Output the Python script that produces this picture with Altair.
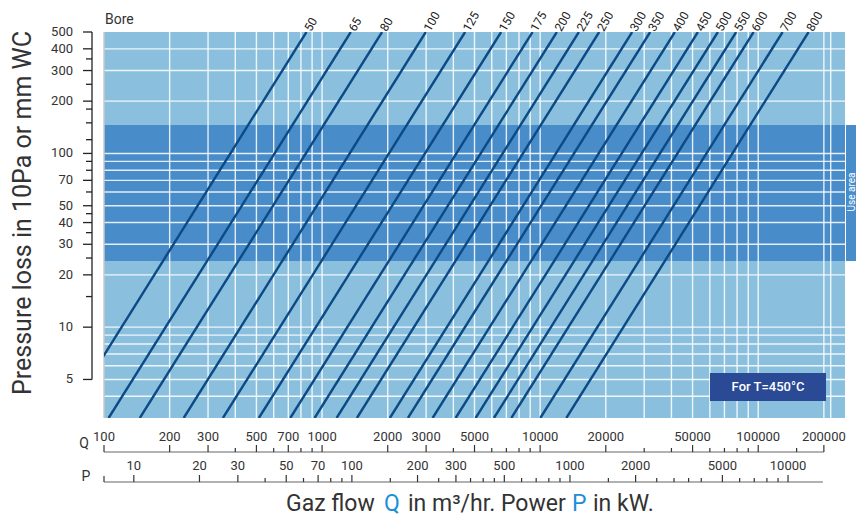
import altair as alt
import pandas as pd

# ---------------- data ----------------
bores = ["50", "65", "80", "100", "125", "150", "175", "200", "225", "250",
         "300", "350", "400", "450", "500", "550", "600", "700", "800"]
# gas flow Q where each bore line reaches the top (500) and bottom (3) of the plot
q_top = [848, 1354, 1884, 2990, 4529, 6623, 9228, 11930, 15050, 18650,
         26420, 31960, 41480, 52900, 65320, 79250, 95250, 129400, 170200]
q_bottom = [66, 105, 146, 232, 351, 513, 715, 924, 1166, 1445,
            2046, 2476, 3213, 4098, 5060, 6139, 7378, 10023, 13184]
dp_top = 500
dp_bottom = 3

use_area = [24, 146]

x_grid = [200, 300, 400, 500, 600, 700, 800, 900,
          1000, 2000, 3000, 4000, 5000, 6000, 7000, 8000, 9000,
          10000, 20000, 30000, 40000, 50000, 60000, 70000, 80000, 90000,
          100000, 200000, 215000]
y_grid = [4, 5, 6, 7, 8, 9, 10, 20, 30, 40, 50, 60, 70, 80, 90, 100, 200, 300, 400]

y_major = [500, 400, 300, 200, 100, 70, 50, 40, 30, 20, 10, 5]
y_minor = [350, 250, 180, 150, 120, 90, 80, 60, 45, 35, 25, 15]

q_major = [100, 200, 300, 500, 700, 1000, 2000, 3000, 5000, 10000, 20000,
           50000, 100000, 200000]
q_minor = [400, 600, 800, 900, 4000, 6000, 7000, 8000, 9000, 30000, 40000,
           60000, 70000, 80000, 90000, 150000]

p_major = [10, 20, 30, 50, 70, 100, 200, 300, 500, 1000, 2000, 5000, 10000]
p_minor = [40, 60, 80, 90, 150, 250, 350, 400, 450, 600, 700, 800, 900,
           1500, 2500, 3000, 3500, 4000, 6000, 7000, 8000, 9000]
q_per_p = 13.7  # gas flow per kW (P axis offset on the Q scale)

# ---------------- styling ----------------
W, H = 741, 386
FONT = "Roboto"
LIGHT = "#8AC0DE"
DARK = "#488CC9"
LINE = "#0C4A86"
TXT = "#333333"
BLUEQ = "#1E8FD6"

XS = alt.Scale(type="log", domain=[100, 250000], nice=False, zero=False)
YS = alt.Scale(type="log", domain=[3, 500], nice=False, zero=False)

one = pd.DataFrame({"a": [0]})


def xq(field="q"):
    return alt.X(f"{field}:Q", scale=XS, axis=None)


def yp(field="dp"):
    return alt.Y(f"{field}:Q", scale=YS, axis=None)


layers = []

# background
layers.append(alt.Chart(one).mark_rect(color=LIGHT).encode(
    x=alt.value(0), x2=alt.value(W), y=alt.value(0), y2=alt.value(H)))

# use-area band + side tab
band = pd.DataFrame({"lo": [use_area[0]], "hi": [use_area[1]]})
layers.append(alt.Chart(band).mark_rect(color=DARK).encode(
    x=alt.value(0), x2=alt.value(W), y=yp("lo"), y2=alt.Y2("hi:Q")))
layers.append(alt.Chart(band).mark_rect(color=DARK).encode(
    x=alt.value(W + 1), x2=alt.value(W + 12), y=yp("lo"), y2=alt.Y2("hi:Q")))

# grid
layers.append(alt.Chart(pd.DataFrame({"q": x_grid})).mark_rule(
    color="white", strokeWidth=1.4, opacity=0.85).encode(
    x=xq(), y=alt.value(0), y2=alt.value(H)))
layers.append(alt.Chart(pd.DataFrame({"dp": y_grid})).mark_rule(
    color="white", strokeWidth=1.4, opacity=0.85).encode(
    y=yp(), x=alt.value(0), x2=alt.value(W)))
layers.append(alt.Chart(one).mark_rule(color="#c8c8c8", strokeWidth=1.5).encode(
    x=alt.value(0), y=alt.value(0), y2=alt.value(H)))

# bore lines
rows = []
for b, qt, qb in zip(bores, q_top, q_bottom):
    rows.append({"bore": b, "q": qb, "dp": dp_bottom, "o": 0})
    rows.append({"bore": b, "q": qt, "dp": dp_top, "o": 1})
lines_df = pd.DataFrame(rows)
layers.append(alt.Chart(lines_df).mark_line(
    color=LINE, strokeWidth=2.4, clip=True).encode(
    x=xq(), y=yp(), detail="bore:N", order="o:Q"))

# bore labels
lab_df = pd.DataFrame({"bore": bores, "q": q_top})
layers.append(alt.Chart(lab_df).mark_text(
    angle=300, align="left", baseline="middle", dx=2, font=FONT, fontSize=12,
    color="#222222").encode(x=xq(), y=alt.value(0), text="bore:N"))
layers.append(alt.Chart(one).mark_text(
    text="Bore", align="left", baseline="middle", font=FONT, fontSize=14,
    color=TXT).encode(x=alt.value(1), y=alt.value(-12)))

# legend box
layers.append(alt.Chart(one).mark_rect(color="#2A4A96").encode(
    x=alt.value(606), x2=alt.value(722), y=alt.value(341), y2=alt.value(369)))
layers.append(alt.Chart(one).mark_text(
    text="For T=450°C", font=FONT, fontSize=13, fontWeight=500, color="white",
    align="center", baseline="middle").encode(x=alt.value(664), y=alt.value(355)))
layers.append(alt.Chart(one).mark_text(
    text="Use area", font=FONT, fontSize=10, color="white", angle=270,
    align="center", baseline="middle").encode(x=alt.value(W + 6.5), y=alt.value(160)))

# ---- Y axis (custom) ----
layers.append(alt.Chart(pd.DataFrame({"a": [5], "b": [500]})).mark_rule(
    color="#222222", strokeWidth=1.3).encode(
    x=alt.value(-12), y=yp("a"), y2=alt.Y2("b:Q")))
layers.append(alt.Chart(pd.DataFrame({"dp": y_major})).mark_rule(
    color="#222222", strokeWidth=1.3).encode(
    y=yp(), x=alt.value(-21), x2=alt.value(-12)))
layers.append(alt.Chart(pd.DataFrame({"dp": y_minor})).mark_rule(
    color="#222222", strokeWidth=1.3).encode(
    y=yp(), x=alt.value(-18), x2=alt.value(-12)))
layers.append(alt.Chart(pd.DataFrame({"dp": y_major})).mark_text(
    align="right", baseline="middle", font=FONT, fontSize=13, color=TXT).encode(
    y=yp(), x=alt.value(-31), text="dp:Q"))
layers.append(alt.Chart(one).mark_text(
    text="Pressure loss in 10Pa or mm WC", angle=270, align="center",
    baseline="middle", font=FONT, fontSize=25, color=TXT).encode(
    x=alt.value(-81), y=alt.value(181)))

# ---- Q axis ----
QY = 420
layers.append(alt.Chart(pd.DataFrame({"a": [100], "b": [200000]})).mark_rule(
    color="#999999", strokeWidth=1.3).encode(
    x=xq("a"), x2=alt.X2("b:Q"), y=alt.value(QY)))
layers.append(alt.Chart(pd.DataFrame({"q": q_major})).mark_rule(
    color="#333333", strokeWidth=1.2).encode(
    x=xq(), y=alt.value(QY - 7), y2=alt.value(QY)))
layers.append(alt.Chart(pd.DataFrame({"q": q_minor})).mark_rule(
    color="#333333", strokeWidth=1.2).encode(
    x=xq(), y=alt.value(QY - 4), y2=alt.value(QY)))
layers.append(alt.Chart(pd.DataFrame({"q": q_major})).mark_text(
    align="center", baseline="middle", font=FONT, fontSize=13, color=TXT).encode(
    x=xq(), y=alt.value(QY - 15), text="q:Q"))
layers.append(alt.Chart(one).mark_text(
    text="Q", align="center", baseline="middle", font=FONT, fontSize=14,
    color=TXT).encode(x=alt.value(-20), y=alt.value(QY - 8)))

# ---- P axis ----
PY = 450
p_line = pd.DataFrame({"a": [100], "b": [198000]})
layers.append(alt.Chart(p_line).mark_rule(color="#999999", strokeWidth=1.3).encode(
    x=xq("a"), x2=alt.X2("b:Q"), y=alt.value(PY)))
layers.append(alt.Chart(one).mark_rule(color="#333333", strokeWidth=1.2).encode(
    x=alt.value(0), y=alt.value(PY - 6), y2=alt.value(PY)))
pmaj = pd.DataFrame({"p": p_major})
pmin = pd.DataFrame({"p": p_minor})
layers.append(alt.Chart(pmaj).transform_calculate(q=f"datum.p * {q_per_p}").mark_rule(
    color="#333333", strokeWidth=1.2).encode(
    x=xq(), y=alt.value(PY - 7), y2=alt.value(PY)))
layers.append(alt.Chart(pmin).transform_calculate(q=f"datum.p * {q_per_p}").mark_rule(
    color="#333333", strokeWidth=1.2).encode(
    x=xq(), y=alt.value(PY - 4), y2=alt.value(PY)))
layers.append(alt.Chart(pmaj).transform_calculate(q=f"datum.p * {q_per_p}").mark_text(
    align="center", baseline="middle", font=FONT, fontSize=13, color=TXT).encode(
    x=xq(), y=alt.value(PY - 16), text="p:Q"))
layers.append(alt.Chart(one).mark_text(
    text="P", align="center", baseline="middle", font=FONT, fontSize=14,
    color=TXT).encode(x=alt.value(-18), y=alt.value(PY - 5)))

# ---- X title (multi-coloured) ----
TY = 479
segs = [("Gaz flow", 182, TXT), ("Q", 280, BLUEQ), ("in m³/hr. Power", 304, TXT),
        ("P", 468, BLUEQ), ("in kW.", 489, TXT)]
for t, xpos, col in segs:
    layers.append(alt.Chart(one).mark_text(
        text=t, align="left", baseline="alphabetic", font=FONT, fontSize=23,
        color=col).encode(x=alt.value(xpos), y=alt.value(TY)))

chart = alt.layer(*layers).resolve_scale(x="shared", y="shared").properties(
    width=W, height=H,
    autosize=alt.AutoSizeParams(type="none"),
    padding={"left": 96, "top": 24, "right": 11, "bottom": 100},
).configure_view(strokeWidth=0)

chart.save("out.html", embed_options={"renderer": "svg", "actions": False})
